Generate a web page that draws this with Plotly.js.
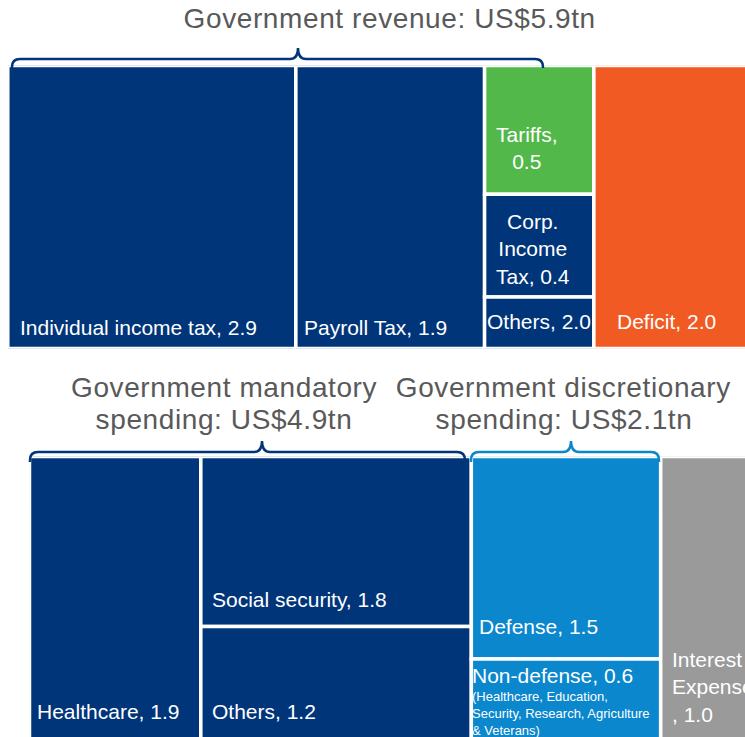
<!DOCTYPE html>
<html><head><meta charset="utf-8">
<script src="https://cdn.plot.ly/plotly-3.0.1.min.js"></script>
<style>html,body{margin:0;padding:0;background:#fff}#chart{width:745px;height:737px}</style>
</head><body><div id="chart"></div>
<script>
// ---------------- DATA ----------------
const revenueLabels = ["Individual income tax", "Payroll Tax", "Tariffs", "Corp. Income Tax", "Others", "Deficit"];
const revenueValues = [2.9, 1.9, 0.5, 0.4, 0.2, 2.0];
const revenueValueText = ["2.9", "1.9", "0.5", "0.4", "2.0", "2.0"]; // as printed in the source
const revenueColumns = [0, 1, 2, 2, 2, 3];

const spendLabels = ["Healthcare", "Social security", "Others", "Defense", "Non-defense", "Interest Expense"];
const spendValues = [1.9, 1.8, 1.2, 1.5, 0.6, 1.0];
const spendValueText = ["1.9", "1.8", "1.2", "1.5", "0.6", "1.0"];
const spendColumns = [0, 1, 1, 2, 2, 3];
const spendNotes = ["", "", "", "", "(Healthcare, Education,<br>Security, Research, Agriculture<br>& Veterans)", ""];

const titleRevenue = ["Government revenue: US$5.9tn"];
const titleMandatory = ["Government mandatory", "spending: US$4.9tn"];
const titleDiscretionary = ["Government discretionary", "spending: US$2.1tn"];

// ---------------- STYLE ----------------
const NAVY = "#003579", GREEN = "#52b84a", ORANGE = "#f15a22", BLUE = "#0a87cd", GREY = "#9a9a9a";
const revenueColors = [NAVY, NAVY, GREEN, NAVY, NAVY, ORANGE];
const spendColors = [NAVY, NAVY, NAVY, BLUE, BLUE, GREY];
const FONT = "Liberation Sans, Arial, sans-serif";
const W = 745, H = 737;

// label placement: pixel offsets from box left (dx) and bottom (dy, up) or top (dt, down)
const revenueLabelPos = [
  {dx: 12, dy: 21.5, mode: "single"},
  {dx: 8, dy: 21.5, mode: "single"},
  {dx: 41.5, dy: 46, mode: "valueBreak", center: true},
  {dx: 48.5, dy: 48, mode: "words", center: true},
  {dx: 2.4, dy: 27.5, mode: "single"},
  {dx: 23, dy: 27.5, mode: "single"}
];
const spendLabelPos = [
  {dx: 7.5, dy: 29, mode: "single"},
  {dx: 11, dy: 27, mode: "single"},
  {dx: 11, dy: 29, mode: "single"},
  {dx: 7.7, dy: 33, mode: "single"},
  {dx: 0.7, dt: 16, mode: "single", noteDt: 54},
  {dx: 11.3, dy: 53, mode: "wordsComma"}
];

// row scales (px per unit, left offset px), vertical pixel extents of each row
const rowTop = {s: 99.33, a: 7.8, yTop: 65.5, yBot: 348.5};
const rowBot = {s: 90.17, a: 29.5, yTop: 456.5, yBot: 740};

function rowBoxes(values, columns) {
  const nCol = Math.max(...columns) + 1;
  const colSum = new Array(nCol).fill(0);
  values.forEach((v, i) => colSum[columns[i]] += v);
  const colStart = []; let acc = 0;
  for (let c = 0; c < nCol; c++) { colStart[c] = acc; acc += colSum[c]; }
  return values.map((v, i) => {
    const c = columns[i];
    let below = 0;
    for (let j = i + 1; j < values.length; j++) if (columns[j] === c) below += values[j];
    return {x0: colStart[c], x1: colStart[c] + colSum[c], y0: below / colSum[c], y1: (below + v) / colSum[c]};
  });
}

function barTrace(boxes, colors, xa, ya) {
  return {
    type: "bar", xaxis: xa, yaxis: ya,
    x: boxes.map(b => (b.x0 + b.x1) / 2),
    width: boxes.map(b => b.x1 - b.x0),
    base: boxes.map(b => b.y0),
    y: boxes.map(b => b.y1 - b.y0),
    marker: {color: colors, line: {color: "#ffffff", width: 3.5}},
    hoverinfo: "skip", showlegend: false
  };
}

function labelText(label, val, mode) {
  if (mode === "valueBreak") return label + ",<br>" + val;
  if (mode === "words") return label.split(" ").join("<br>") + ", " + val;
  if (mode === "wordsComma") return label.split(" ").join("<br>") + "<br>, " + val;
  return label + ", " + val;
}

function rowAnnotations(boxes, labels, vals, pos, row, xr, yr, notes) {
  const out = [];
  const pxY = row.yBot - row.yTop;
  boxes.forEach((b, i) => {
    const p = pos[i];
    const a = {
      xref: xr, yref: yr, x: b.x0, showarrow: false,
      text: labelText(labels[i], vals[i], p.mode),
      font: {family: FONT, size: 21, color: "#ffffff"},
      xanchor: p.center ? "center" : "left", align: p.center ? "center" : "left",
      xshift: p.center ? p.dx : p.dx - 2, yanchor: "middle"
    };
    a.y = (p.dt !== undefined) ? b.y1 - p.dt / pxY : b.y0 + p.dy / pxY;
    out.push(a);
    if (notes && notes[i]) {
      out.push({xref: xr, yref: yr, x: b.x0, y: b.y1 - p.noteDt / pxY, xshift: p.dx - 2,
        xanchor: "left", yanchor: "middle", align: "left", showarrow: false, text: notes[i],
        font: {family: FONT, size: 13, color: "#ffffff"}});
    }
  });
  return out;
}

const revBoxes = rowBoxes(revenueValues, revenueColumns);
const spBoxes = rowBoxes(spendValues, spendColumns);

const traces = [barTrace(revBoxes, revenueColors, "x", "y"), barTrace(spBoxes, spendColors, "x2", "y2")];

function titleAnn(lines, cx, cys) {
  return lines.map((t, i) => ({xref: "paper", yref: "paper", x: cx / W, y: 1 - cys[i] / H,
    xanchor: "center", yanchor: "middle", showarrow: false, text: t, isTitle: true,
    font: {family: FONT, size: 28, color: "#595959"}}));
}
const annotations = []
  .concat(rowAnnotations(revBoxes, revenueLabels, revenueValueText, revenueLabelPos, rowTop, "x", "y"))
  .concat(rowAnnotations(spBoxes, spendLabels, spendValueText, spendLabelPos, rowBot, "x2", "y2", spendNotes))
  .concat(titleAnn(titleRevenue, 389.5, [19]))
  .concat(titleAnn(titleMandatory, 223.5, [387, 420]))
  .concat(titleAnn(titleDiscretionary, 563.5, [387, 420]));

// slight letter spacing for the title annotations
const css = annotations.map((a, i) => a.isTitle ? 'g.annotation[data-index="' + i + '"] text' : null)
  .filter(Boolean).join(",") + "{letter-spacing:0.6px}";
annotations.forEach(a => delete a.isTitle);
const st = document.createElement("style"); st.textContent = css; document.head.appendChild(st);

function P(x, y) { return (x / W).toFixed(5) + "," + (1 - y / H).toFixed(5); }
function brace(xl, xr, xt, yb, yh, yt, r, color) {
  const path = "M" + P(xl, yb) + " L" + P(xl, yh + r) + " Q" + P(xl, yh) + " " + P(xl + r, yh) +
    " L" + P(xt - r, yh) + " Q" + P(xt, yh) + " " + P(xt, yt) +
    " Q" + P(xt, yh) + " " + P(xt + r, yh) + " L" + P(xr - r, yh) +
    " Q" + P(xr, yh) + " " + P(xr, yh + r) + " L" + P(xr, yb);
  return {type: "path", xref: "paper", yref: "paper", path: path, line: {color: color, width: 2.5}, layer: "above"};
}
const shapes = [
  brace(12, 543, 298, 68, 59, 48, 8, NAVY),
  brace(30, 465, 262, 462, 452, 441, 8, NAVY),
  brace(471, 659, 571, 462, 452, 441, 8, BLUE)
];

const hidden = {visible: false, fixedrange: true, showgrid: false, zeroline: false};
const layout = {
  width: W, height: H, margin: {l: 0, r: 0, t: 0, b: 0},
  paper_bgcolor: "#ffffff", plot_bgcolor: "#ffffff",
  barmode: "overlay", showlegend: false,
  xaxis: Object.assign({}, hidden, {domain: [0, 1], anchor: "y", range: [-rowTop.a / rowTop.s, (W - rowTop.a) / rowTop.s]}),
  yaxis: Object.assign({}, hidden, {domain: [1 - rowTop.yBot / H, 1 - rowTop.yTop / H], anchor: "x", range: [0, 1]}),
  xaxis2: Object.assign({}, hidden, {domain: [0, 1], anchor: "y2", range: [-rowBot.a / rowBot.s, (W - rowBot.a) / rowBot.s]}),
  yaxis2: Object.assign({}, hidden, {domain: [0, 1 - rowBot.yTop / H], anchor: "x2",
    range: [(rowBot.yBot - H) / (rowBot.yBot - rowBot.yTop), 1]}),
  annotations: annotations, shapes: shapes
};
Plotly.newPlot("chart", traces, layout, {displayModeBar: false, staticPlot: true});
</script></body></html>
